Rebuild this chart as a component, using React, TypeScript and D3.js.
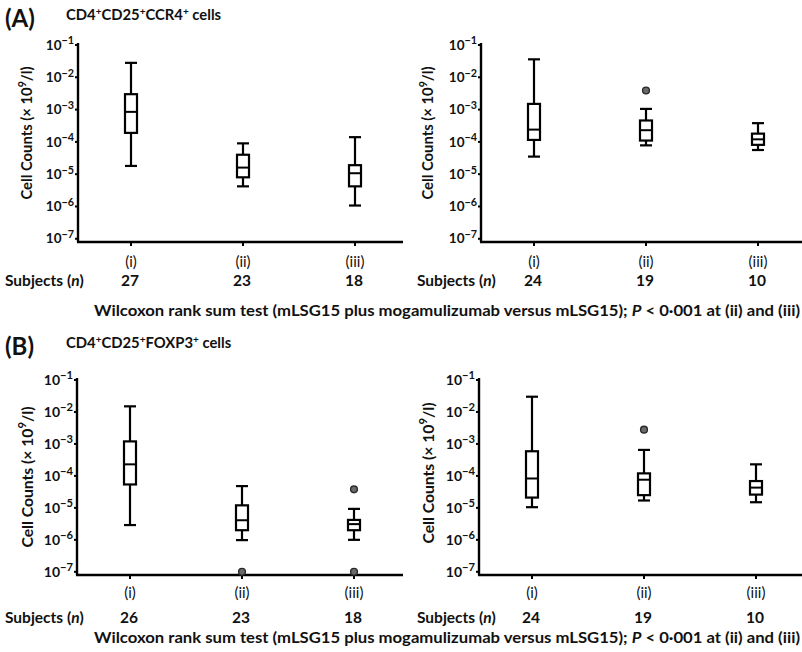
import React from "react";
import * as d3 from "d3";

const categories = ["(i)", "(ii)", "(iii)"];
const yTickExponents = [-1, -2, -3, -4, -5, -6, -7];

const subjectsALeft = [27, 23, 18];
const subjectsARight = [24, 19, 10];
const subjectsBLeft = [26, 23, 18];
const subjectsBRight = [24, 19, 10];

// [whiskerLow, q1, median, q3, whiskerHigh] per category
const boxesALeft = [
  [1.8e-5, 1.9e-4, 8.5e-4, 3.0e-3, 2.8e-2],
  [4.2e-6, 8.0e-6, 1.6e-5, 4.0e-5, 9.0e-5],
  [1.07e-6, 4.2e-6, 1.07e-5, 1.9e-5, 1.4e-4],
];
const outliersALeft = [[], [], []];

const boxesARight = [
  [3.5e-5, 1.15e-4, 2.4e-4, 1.5e-3, 3.6e-2],
  [7.8e-5, 1.1e-4, 2.3e-4, 4.6e-4, 1.05e-3],
  [5.6e-5, 8.1e-5, 1.2e-4, 1.8e-4, 3.8e-4],
];
const outliersARight = [[], [3.9e-3], []];

const boxesBLeft = [
  [2.9e-6, 5.4e-5, 2.3e-4, 1.2e-3, 1.5e-2],
  [9.8e-7, 2.0e-6, 4.1e-6, 1.2e-5, 4.8e-5],
  [1.0e-6, 2.0e-6, 3.1e-6, 4.2e-6, 9.3e-6],
];
const outliersBLeft = [[], [1.0e-7], [3.8e-5, 1.0e-7]];

const boxesBRight = [
  [1.05e-5, 2.1e-5, 8.3e-5, 5.9e-4, 3.0e-2],
  [1.7e-5, 2.5e-5, 7.6e-5, 1.2e-4, 6.5e-4],
  [1.5e-5, 2.6e-5, 4.3e-5, 6.9e-5, 2.3e-4],
];
const outliersBRight = [[], [2.8e-3], []];

const FONT = "Lato, 'Open Sans', sans-serif";

type PanelProps = {
  x0: number;
  xEnd: number;
  yTop: number;
  yAxis: number;
  boxes: number[][];
  outliers: number[][];
  subjects: number[];
  fs: number;
  labelFs: number;
  catY: number;
  subjY: number;
  subjX: number;
  labelX: number;
  labelY: number;
};

function Panel(p: PanelProps) {
  const y = d3.scaleLog().domain([Math.pow(10, -7.1), 1e-1]).range([p.yAxis, p.yTop]);
  const x = d3
    .scalePoint<string>()
    .domain(categories)
    .range([p.x0 + 53, p.x0 + 53 + 224]);
  const bw = 12;
  return (
    <g fontFamily={FONT}>
      <line x1={p.x0} x2={p.x0} y1={p.yTop - 2} y2={p.yAxis} stroke="#000" strokeWidth={2.4} />
      <line x1={p.x0 - 1} x2={p.xEnd} y1={p.yAxis} y2={p.yAxis} stroke="#000" strokeWidth={2.4} />
      {yTickExponents.map((e) => {
        const yy = y(Math.pow(10, e));
        return (
          <g key={e}>
            <line x1={p.x0 - 3} x2={p.x0} y1={yy} y2={yy} stroke="#000" strokeWidth={2} />
            <text
              x={p.x0 - 4}
              y={yy}
              dy="0.35em"
              textAnchor="end"
              fontSize={p.fs}
              fontWeight={700}
              fill="#111"
            >
              10
              <tspan dy={-p.fs * 0.4} fontSize={p.fs * 0.8}>
                {"\u2212" + Math.abs(e)}
              </tspan>
            </text>
          </g>
        );
      })}
      <text
        transform={`translate(${p.labelX},${p.labelY}) rotate(-90)`}
        textAnchor="middle"
        dy="0.35em"
        fontSize={p.labelFs}
        fontWeight={700}
        fill="#111"
      >
        Cell Counts (× 10
        <tspan dy={-p.labelFs * 0.4} fontSize={p.labelFs * 0.72}>
          9
        </tspan>
        <tspan dy={p.labelFs * 0.4}>/l)</tspan>
      </text>
      {categories.map((c, i) => {
        const cx = x(c) as number;
        const [lo, q1, med, q3, hi] = p.boxes[i];
        return (
          <g key={c}>
            <line x1={cx} x2={cx} y1={p.yAxis} y2={p.yAxis + 4} stroke="#000" strokeWidth={2} />
            <text x={cx} y={p.catY} dy="0.35em" textAnchor="middle" fontSize={15} fill="#111">
              {c}
            </text>
            <text x={cx - 1} y={p.subjY} dy="0.35em" textAnchor="middle" fontSize={15.5} fontWeight={700} fill="#111">
              {p.subjects[i]}
            </text>
            <line x1={cx} x2={cx} y1={y(hi)} y2={y(q3)} stroke="#000" strokeWidth={2.2} />
            <line x1={cx} x2={cx} y1={y(q1)} y2={y(lo)} stroke="#000" strokeWidth={2.2} />
            <line x1={cx - bw / 2} x2={cx + bw / 2} y1={y(hi)} y2={y(hi)} stroke="#000" strokeWidth={2.2} />
            <line x1={cx - bw / 2} x2={cx + bw / 2} y1={y(lo)} y2={y(lo)} stroke="#000" strokeWidth={2.2} />
            <rect
              x={cx - bw / 2}
              y={y(q3)}
              width={bw}
              height={y(q1) - y(q3)}
              fill="#fff"
              stroke="#000"
              strokeWidth={2.2}
            />
            <line x1={cx - bw / 2} x2={cx + bw / 2} y1={y(med)} y2={y(med)} stroke="#000" strokeWidth={2} />
            {p.outliers[i].map((v, j) => (
              <circle key={j} cx={cx} cy={y(v)} r={3.4} fill="#6a6a6a" stroke="#2a2a2a" strokeWidth={1.4} />
            ))}
          </g>
        );
      })}
      <text x={p.subjX} y={p.subjY} dy="0.35em" fontSize={15.5} fontWeight={700} fill="#111">
        Subjects (<tspan fontStyle="italic">n</tspan>)
      </text>
    </g>
  );
}

function Title({ x, y, letter, parts }: { x: number; y: number; letter: string; parts: [string, boolean][] }) {
  return (
    <g fontFamily={FONT} fill="#111">
      <text x={x} y={y} dy="0.35em" fontSize={24} fontWeight={700}>
        {letter}
      </text>
      <text x={x + 61} y={y + 1} dy="0.35em" fontSize={14.8} fontWeight={700}>
        {parts.map(([s, sup], i) =>
          sup ? (
            <tspan key={i} dy={-5} fontSize={10}>
              {s}
            </tspan>
          ) : (
            <tspan key={i} dy={i > 0 && parts[i - 1][1] ? 5 : 0}>
              {s}
            </tspan>
          )
        )}
      </text>
    </g>
  );
}

function Wilcoxon({ y }: { y: number }) {
  return (
    <text
      x={94}
      y={y}
      dy="0.35em"
      fontFamily={FONT}
      fontSize={14.5}
      fontWeight={700}
      fill="#111"
      textLength={706}
      lengthAdjust="spacingAndGlyphs"
    >
      Wilcoxon rank sum test (mLSG15 plus mogamulizumab versus mLSG15);{" "}
      <tspan fontStyle="italic">P</tspan> {"< 0\u00b7001 at (ii) and (iii)"}
    </text>
  );
}

export default function App() {
  return (
    <svg
      width={802}
      height={652}
      style={{ position: "absolute", left: 0, top: 0, background: "#fff" }}
    >
      <rect width={802} height={652} fill="#fff" />
      <Title
        x={5}
        y={19}
        letter="(A)"
        parts={[
          ["CD4", false],
          ["+", true],
          ["CD25", false],
          ["+", true],
          ["CCR4", false],
          ["+", true],
          [" cells", false],
        ]}
      />
      <Panel
        x0={78}
        xEnd={403}
        yTop={45}
        yAxis={242}
        boxes={boxesALeft}
        outliers={outliersALeft}
        subjects={subjectsALeft}
        fs={13.5}
        labelFs={14.8}
        catY={262}
        subjY={281}
        subjX={5}
        labelX={27}
        labelY={133}
      />
      <Panel
        x0={481}
        xEnd={802}
        yTop={45}
        yAxis={242}
        boxes={boxesARight}
        outliers={outliersARight}
        subjects={subjectsARight}
        fs={13.5}
        labelFs={14.8}
        catY={262}
        subjY={281}
        subjX={417}
        labelX={428}
        labelY={133}
      />
      <Wilcoxon y={311} />
      <Title
        x={5}
        y={347}
        letter="(B)"
        parts={[
          ["CD4", false],
          ["+", true],
          ["CD25", false],
          ["+", true],
          ["FOXP3", false],
          ["+", true],
          [" cells", false],
        ]}
      />
      <Panel
        x0={77}
        xEnd={403}
        yTop={380}
        yAxis={575}
        boxes={boxesBLeft}
        outliers={outliersBLeft}
        subjects={subjectsBLeft}
        fs={14}
        labelFs={15.7}
        catY={593}
        subjY={618}
        subjX={5}
        labelX={27}
        labelY={477}
      />
      <Panel
        x0={479}
        xEnd={802}
        yTop={380}
        yAxis={575}
        boxes={boxesBRight}
        outliers={outliersBRight}
        subjects={subjectsBRight}
        fs={14}
        labelFs={15.7}
        catY={593}
        subjY={618}
        subjX={417}
        labelX={428}
        labelY={473}
      />
      <Wilcoxon y={638} />
    </svg>
  );
}
